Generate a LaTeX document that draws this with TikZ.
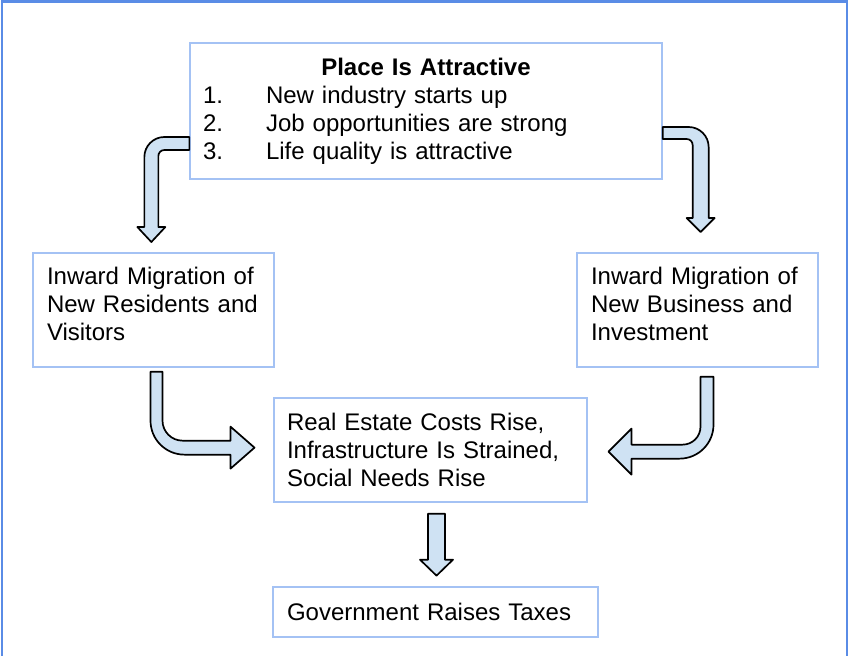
\documentclass[tikz,border=0pt]{standalone}
\usepackage{fontspec}
\setmainfont{Liberation Sans}
\definecolor{boxblue}{RGB}{164,194,244}
\definecolor{frameblue}{RGB}{90,140,230}
\definecolor{arrowfill}{RGB}{207,226,243}
\tikzset{
  box/.style={draw=boxblue, line width=1.3pt, rectangle, inner xsep=14pt, inner ysep=0pt,
    align=left, font=\fontsize{24}{28}\selectfont},
  blockarrow/.style={draw=black, line width=1.7pt, fill=arrowfill, line join=round}
}
\begin{document}
\begin{tikzpicture}[x=1pt, y=-1pt]
  \useasboundingbox (0,0) rectangle (849,656);
  \fill[white] (0,0) rectangle (849,656);
  % outer frame
  \draw[frameblue, line width=2.5pt] (2,660) -- (2,1.5) -- (847,1.5) -- (847,660);

  % boxes
  \node[box, text width=446pt, inner xsep=13pt, minimum height=136pt] (attract) at (426,111)
    {\makebox[446pt]{\textbf{Place Is Attractive}}\\
     \makebox[63pt][l]{1.}New industry starts up\\
     \makebox[63pt][l]{2.}Job opportunities are strong\\
     \makebox[63pt][l]{3.}Life quality is attractive};
  \node[box, text width=213pt, minimum height=114pt] (residents) at (153.5,310)
    {Inward Migration of\\ New Residents and\\ Visitors\rule[-12pt]{0pt}{0pt}};
  \node[box, text width=213pt, minimum height=114pt] (business) at (697.5,310)
    {Inward Migration of\\ New Business and\\ Investment\rule[-12pt]{0pt}{0pt}};
  \node[box, text width=287pt, inner xsep=13pt, minimum height=104pt] (impact) at (430.5,450)
    {Real Estate Costs Rise,\\ Infrastructure Is Strained,\\ Social Needs Rise};
  \node[box, text width=297pt, minimum height=50pt] (taxes) at (435.5,612)
    {Government Raises Taxes};

  % bent block arrows
  \draw[blockarrow] (attract.west) ++(0,26) -- ++(-25,0)
    .. controls +(-11,0) and +(0,-11) .. ++(-20,20) -- ++(0,70)
    -- ++(-7,0) -- ++(14,15) -- ++(14,-15) -- ++(-7,0) -- ++(0,-71)
    .. controls +(0,-3.3) and +(-3.3,0) .. ++(6,-6) -- ++(25,0) -- cycle;
  \draw[blockarrow] (attract.east) ++(0,16) -- ++(26,0)
    .. controls +(11,0) and +(0,-11) .. ++(20,20) -- ++(0,71)
    -- ++(6,0) -- ++(-14,14) -- ++(-14,-14) -- ++(6,0) -- ++(0,-73)
    .. controls +(0,-3.3) and +(3.3,0) .. ++(-6,-6) -- ++(-24,0) -- cycle;
  \draw[blockarrow] (residents.south) ++(-3,4) -- ++(0,49)
    .. controls +(0,18.8) and +(-18.8,0) .. ++(34,34) -- ++(46,0)
    -- ++(0,14) -- ++(24,-21) -- ++(-24,-21) -- ++(0,14) -- ++(-48,0)
    .. controls +(-11,0) and +(0,11) .. ++(-20,-20) -- ++(0,-49) -- cycle;
  \draw[blockarrow] (business.south) ++(3,9) -- ++(13,0) -- ++(0,48)
    .. controls +(0,18.8) and +(18.8,0) .. ++(-34,34) -- ++(-48,0)
    -- ++(0,16) -- ++(-23,-23) -- ++(23,-23) -- ++(0,16) -- ++(51,0)
    .. controls +(10,0) and +(0,10) .. ++(18,-18) -- cycle;
  \draw[blockarrow] (impact.south) ++(-2.5,11) -- ++(17,0) -- ++(0,46) -- ++(8,0)
    -- ++(-16.5,16) -- ++(-16.5,-16) -- ++(8,0) -- cycle;
\end{tikzpicture}
\end{document}
